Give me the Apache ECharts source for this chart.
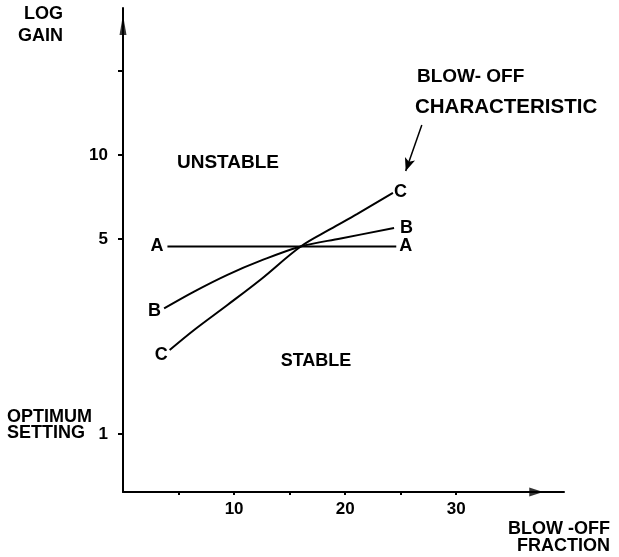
<!DOCTYPE html>
<html>
<head>
<meta charset="utf-8">
<script src="https://cdn.jsdelivr.net/npm/echarts@6/dist/echarts.min.js"></script>
<style>html,body{margin:0;padding:0;background:#fff;}#c{width:619px;height:557px;}</style>
</head>
<body>
<div id="c"></div>
<script>
// ---- data ----
const xTickValues = [5, 10, 15, 20, 25, 30];
const xTickLabels = [10, 20, 30];
const yTickValues = [1, 5, 10, 20];
const yTickLabels = [1, 5, 10];

const seriesA_x = [4.0, 24.6];
const seriesA_y = [4.7, 4.7];
const seriesB_x = [3.7, 6.4, 9.4, 12.4, 16.0, 19.6, 24.4];
const seriesB_y = [2.82, 3.24, 3.72, 4.18, 4.7, 5.02, 5.47];
const seriesC_x = [4.2, 6.4, 9.4, 12.4, 16.0, 18.7, 21.1, 24.3];
const seriesC_y = [2.0, 2.36, 2.9, 3.58, 4.7, 5.43, 6.15, 7.31];

// annotation arrow (data coords) for "BLOW-OFF CHARACTERISTIC"
const annotArrowFrom = [26.9, 12.8];
const annotArrowTo = [25.45, 8.76];

const FONT = '"Liberation Sans", Arial, sans-serif';

function buildData(xs, ys, name, leftLab, rightLab) {
  return xs.map((x, i) => {
    const item = { value: [x, ys[i]] };
    if (i === 0) {
      item.label = Object.assign({ show: true, position: 'left', formatter: name }, leftLab);
    } else if (i === xs.length - 1) {
      item.label = Object.assign({ show: true, position: 'right', formatter: name }, rightLab);
    }
    return item;
  });
}

const labelStyle = { color: '#000', fontFamily: FONT, fontWeight: 'bold', fontSize: 18 };

function lineSeries(name, xs, ys, leftLab, rightLab, smooth) {
  return {
    type: 'line',
    name: name,
    data: buildData(xs, ys, name, leftLab, rightLab),
    smooth: smooth,
    symbol: 'circle',
    symbolSize: 0,
    showSymbol: true,
    itemStyle: { color: '#000' },
    lineStyle: { color: '#000', width: 2 },
    label: labelStyle,
    clip: false,
    silent: true
  };
}

const chart = echarts.init(document.getElementById('c'), null, { renderer: 'canvas' });

const option = {
  animation: false,
  backgroundColor: '#fff',
  grid: { left: 123, right: 55, top: 8, bottom: 65 },
  xAxis: {
    type: 'value',
    min: 0,
    max: 39.7,
    interval: 5,
    splitLine: { show: false },
    axisLine: { show: true, onZero: false, lineStyle: { color: '#000', width: 2 } },
    axisTick: { show: true, length: 3, customValues: xTickValues, lineStyle: { color: '#000', width: 2 } },
    axisLabel: {
      customValues: xTickLabels,
      margin: 9,
      color: '#000', fontFamily: FONT, fontWeight: 'bold', fontSize: 17
    }
  },
  yAxis: {
    type: 'log',
    logBase: 10,
    min: 0.62,
    max: 33.6,
    splitLine: { show: false },
    axisLine: { show: true, lineStyle: { color: '#000', width: 2 } },
    axisTick: { show: true, length: 5, customValues: yTickValues, lineStyle: { color: '#000', width: 2 } },
    axisLabel: {
      customValues: yTickLabels,
      margin: 15,
      color: '#000', fontFamily: FONT, fontWeight: 'bold', fontSize: 17
    }
  },
  series: [
    lineSeries('A', seriesA_x, seriesA_y, { distance: 4 }, { distance: 3 }, false),
    lineSeries('B', seriesB_x, seriesB_y, { distance: 3, offset: [0, 3] }, { distance: 6 }, 0.35),
    lineSeries('C', seriesC_x, seriesC_y, { distance: 2, offset: [0, 5] }, { distance: 1, offset: [0, -1] }, 0.35),
    {
      type: 'scatter',
      name: 'axisArrows',
      silent: true,
      clip: false,
      symbol: 'triangle',
      itemStyle: { color: '#000' },
      data: [
        { value: [37.2, 0.62], symbolSize: [9, 14], symbolRotate: -90 },
        { value: [0, 29.2], symbolSize: [7, 20], symbolRotate: 0 }
      ],
      markLine: {
        silent: true,
        symbol: ['none', 'arrow'],
        symbolSize: [8, 13],
        label: { show: false },
        lineStyle: { color: '#000', width: 1.5, type: 'solid' },
        data: [[{ coord: annotArrowFrom }, { coord: annotArrowTo }]]
      }
    }
  ],
  graphic: [
    { type: 'text', x: 63, y: 14, style: { text: 'LOG', font: 'bold 18px ' + FONT, fill: '#000', textAlign: 'right', textVerticalAlign: 'middle' } },
    { type: 'text', x: 63, y: 36, style: { text: 'GAIN', font: 'bold 18px ' + FONT, fill: '#000', textAlign: 'right', textVerticalAlign: 'middle' } },
    { type: 'text', x: 228, y: 163, style: { text: 'UNSTABLE', font: 'bold 19px ' + FONT, fill: '#000', textAlign: 'center', textVerticalAlign: 'middle' } },
    { type: 'text', x: 316, y: 361, style: { text: 'STABLE', font: 'bold 18px ' + FONT, fill: '#000', textAlign: 'center', textVerticalAlign: 'middle' } },
    { type: 'text', x: 417, y: 77, style: { text: 'BLOW- OFF', font: 'bold 19px ' + FONT, fill: '#000', textAlign: 'left', textVerticalAlign: 'middle' } },
    { type: 'text', x: 415, y: 107, style: { text: 'CHARACTERISTIC', font: 'bold 20.5px ' + FONT, fill: '#000', textAlign: 'left', textVerticalAlign: 'middle' } },
    { type: 'text', x: 7, y: 417, style: { text: 'OPTIMUM', font: 'bold 18px ' + FONT, fill: '#000', textAlign: 'left', textVerticalAlign: 'middle' } },
    { type: 'text', x: 7, y: 433, style: { text: 'SETTING', font: 'bold 18px ' + FONT, fill: '#000', textAlign: 'left', textVerticalAlign: 'middle' } },
    { type: 'text', x: 610, y: 529, style: { text: 'BLOW -OFF', font: 'bold 18px ' + FONT, fill: '#000', textAlign: 'right', textVerticalAlign: 'middle' } },
    { type: 'text', x: 610, y: 546, style: { text: 'FRACTION', font: 'bold 18px ' + FONT, fill: '#000', textAlign: 'right', textVerticalAlign: 'middle' } }
  ]
};
chart.setOption(option);
</script>
</body>
</html>
